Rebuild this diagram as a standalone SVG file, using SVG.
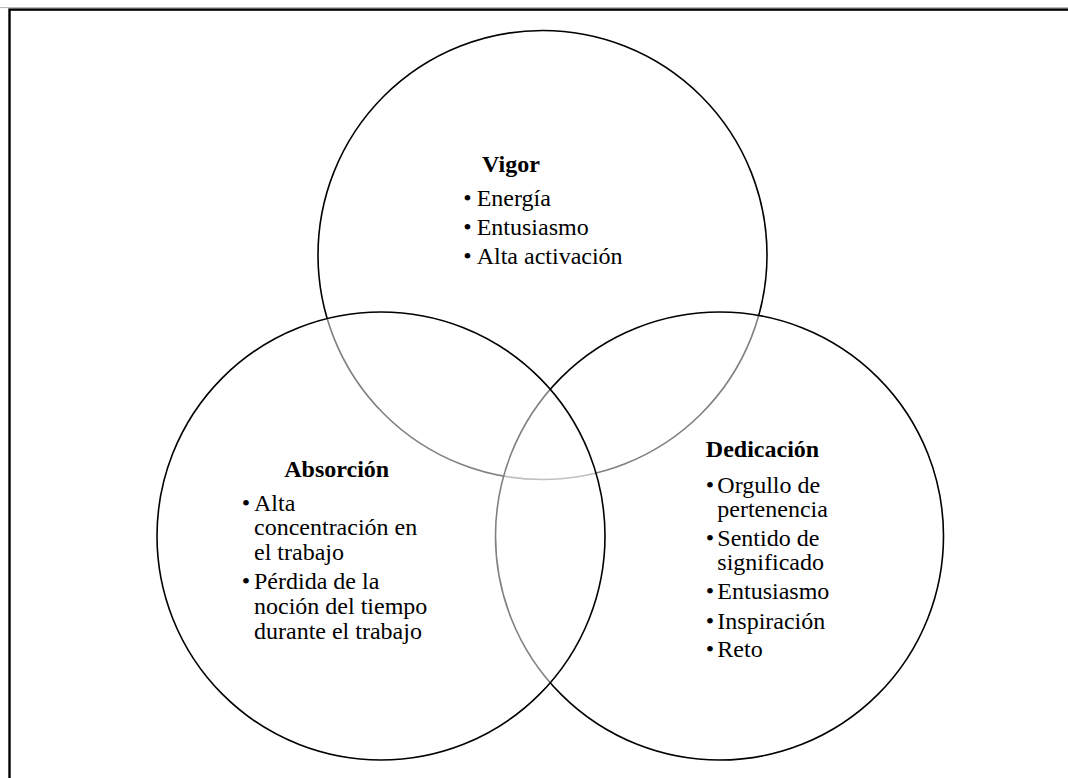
<svg xmlns="http://www.w3.org/2000/svg" width="1068" height="778" viewBox="0 0 1068 778">
  <style>
    .ring { fill: #ffffff; fill-opacity: 0.5; stroke: #000000; stroke-width: 1.6; }
    .frame { fill: none; stroke: #000000; stroke-width: 2.4; }
    .head { font-family: "Liberation Serif", "Times New Roman", serif; font-size: 24px; font-weight: bold; fill: #000000; text-anchor: middle; }
    .item { font-family: "Liberation Serif", "Times New Roman", serif; font-size: 24px; fill: #000000; }
    .dot { font-family: "Liberation Serif", "Times New Roman", serif; font-size: 24px; fill: #000000; text-anchor: middle; }
  </style>
  <rect width="1068" height="778" fill="#ffffff"/>
  <!-- page frame (right and bottom edges run past the canvas) -->
  <line x1="0" y1="7.6" x2="1068" y2="7.6" stroke="#b0b0b0" stroke-width="1"/>
  <rect class="frame" x="9.5" y="9.6" width="1100" height="800"/>

  <!-- circles: drawn top, right, left so the half-white fills grey out the covered arcs -->
  <g id="vigor">
    <circle class="ring" cx="542.5" cy="255" r="224.5"/>
  </g>
  <g id="dedicacion">
    <circle class="ring" cx="719.5" cy="536" r="224"/>
  </g>
  <g id="absorcion">
    <circle class="ring" cx="381" cy="536" r="224"/>
  </g>

  <!-- labels -->
  <g id="vigor-text">
    <text class="head" x="511" y="172">Vigor</text>
    <text class="dot" x="467.5" y="205.7">•</text>
    <text class="item" x="476.7" y="205.7">Energía</text>
    <text class="dot" x="467.5" y="234.7">•</text>
    <text class="item" x="476.7" y="234.7">Entusiasmo</text>
    <text class="dot" x="467.5" y="263.7">•</text>
    <text class="item" x="476.7" y="263.7">Alta activación</text>
  </g>

  <g id="absorcion-text">
    <text class="head" x="336.7" y="476.7">Absorción</text>
    <text class="dot" x="246" y="510.7">•</text>
    <text class="item" x="254" y="510.7">Alta</text>
    <text class="item" x="254" y="535.3">concentración en</text>
    <text class="item" x="254" y="560">el trabajo</text>
    <text class="dot" x="246" y="589.3">•</text>
    <text class="item" x="254" y="589.3">Pérdida de la</text>
    <text class="item" x="254" y="614">noción del tiempo</text>
    <text class="item" x="254" y="638.5">durante el trabajo</text>
  </g>

  <g id="dedicacion-text">
    <text class="head" x="762.5" y="456.7">Dedicación</text>
    <text class="dot" x="710" y="493.3">•</text>
    <text class="item" x="717.3" y="493.3">Orgullo de</text>
    <text class="item" x="717.3" y="517.3">pertenencia</text>
    <text class="dot" x="710" y="545.5">•</text>
    <text class="item" x="717.3" y="545.5">Sentido de</text>
    <text class="item" x="717.3" y="569.5">significado</text>
    <text class="dot" x="710" y="599.3">•</text>
    <text class="item" x="717.3" y="599.3">Entusiasmo</text>
    <text class="dot" x="710" y="628.7">•</text>
    <text class="item" x="717.3" y="628.7">Inspiración</text>
    <text class="dot" x="710" y="657">•</text>
    <text class="item" x="717.3" y="657">Reto</text>
  </g>
</svg>
